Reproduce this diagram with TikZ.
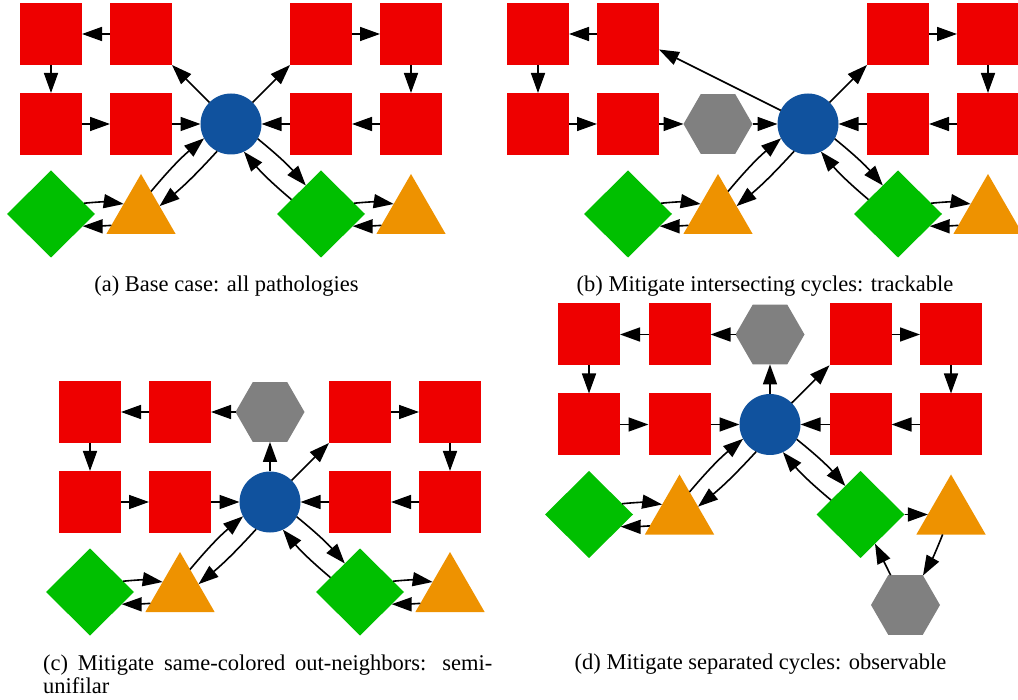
\documentclass[tikz,border=0pt]{standalone}
\usepackage{fontspec}
\setmainfont{Liberation Serif}
\usetikzlibrary{shapes.geometric,arrows.meta}
\definecolor{cred}{HTML}{EE0000}
\definecolor{cgreen}{HTML}{00BF00}
\definecolor{corange}{HTML}{EE9200}
\definecolor{cblue}{HTML}{10529E}
\definecolor{cgray}{HTML}{808080}
\tikzset{
  sq/.style={rectangle,fill=cred,minimum width=62pt,minimum height=62pt,inner sep=0pt,outer sep=0pt},
  circ/.style={circle,fill=cblue,minimum size=61pt,inner sep=0pt,outer sep=0pt},
  dia/.style={diamond,fill=cgreen,minimum width=88pt,minimum height=87pt,inner sep=0pt,outer sep=0pt},
  tri/.style={regular polygon,regular polygon sides=3,fill=corange,minimum size=80pt,inner sep=0pt,outer sep=0pt},
  hexa/.style={regular polygon,regular polygon sides=6,fill=cgray,minimum size=69pt,inner sep=0pt,outer sep=0pt},
  arr/.style={draw=black,line width=1.6pt,-{Triangle[length=20pt 0,width=14pt 0]}},
  captxt/.style={font=\fontsize{22.5}{25}\selectfont,inner sep=0pt}
}
\begin{document}
\begin{tikzpicture}[x=1pt,y=-1pt]
\useasboundingbox (0,0) rectangle (1018,700);
\clip (0,0) rectangle (1018,700);
% ---------------- (a)
\node[sq] (a11) at (51,34) {};
\node[sq] (a12) at (141,34) {};
\node[sq] (a14) at (321,34) {};
\node[sq] (a15) at (411,34) {};
\node[sq] (a21) at (51,124) {};
\node[sq] (a22) at (141,124) {};
\node[circ] (ac) at (231,124) {};
\node[sq] (a24) at (321,124) {};
\node[sq] (a25) at (411,124) {};
\node[dia] (adl) at (51,214) {};
\node[tri] (atl) at (141,214) {};
\node[dia] (adr) at (321,214) {};
\node[tri] (atr) at (411,214) {};
\draw[arr] (a12) -- (a11);
\draw[arr] (a11) -- (a21);
\draw[arr] (a21) -- (a22);
\draw[arr] (a22) -- (ac);
\draw[arr] (ac) -- (a12);
\draw[arr] (ac) -- (a14);
\draw[arr] (a14) -- (a15);
\draw[arr] (a15) -- (a25);
\draw[arr] (a25) -- (a24);
\draw[arr] (a24) -- (ac);
\draw[arr] (atl.66) to[bend left=5] (ac.208);
\draw[arr] (ac.243) to[bend left=4] (atl.23);
\draw[arr] (adl.18) to[bend left=7] (atl.150);
\draw[arr] (atl.201) to[bend left=2] (adl.339);
\draw[arr] (ac.331) to[bend left=5] (adr.118);
\draw[arr] (adr.154) to[bend left=5] (ac.295);
\draw[arr] (adr.18) to[bend left=7] (atr.150);
\draw[arr] (atr.201) to[bend left=2] (adr.339);
\node[captxt,anchor=base] (capa) at (226.5,292) {(a) Base case: all pathologies};
% ---------------- (b)
\node[sq] (b11) at (538,34) {};
\node[sq] (b12) at (628,34) {};
\node[sq] (b14) at (898,34) {};
\node[sq] (b15) at (988,34) {};
\node[sq] (b21) at (538,124) {};
\node[sq] (b22) at (628,124) {};
\node[hexa] (bh) at (718,124) {};
\node[circ] (bc) at (808,124) {};
\node[sq] (b24) at (898,124) {};
\node[sq] (b25) at (988,124) {};
\node[dia] (bdl) at (628,214) {};
\node[tri] (btl) at (718,214) {};
\node[dia] (bdr) at (898,214) {};
\node[tri] (btr) at (988,214) {};
\draw[arr] (b12) -- (b11);
\draw[arr] (b11) -- (b21);
\draw[arr] (b21) -- (b22);
\draw[arr] (b22) -- (bh);
\draw[arr] (bh) -- (bc);
\draw[arr] (bc) -- (b12);
\draw[arr] (bc) -- (b14);
\draw[arr] (b14) -- (b15);
\draw[arr] (b15) -- (b25);
\draw[arr] (b25) -- (b24);
\draw[arr] (b24) -- (bc);
\draw[arr] (btl.66) to[bend left=5] (bc.208);
\draw[arr] (bc.243) to[bend left=4] (btl.23);
\draw[arr] (bdl.18) to[bend left=7] (btl.150);
\draw[arr] (btl.201) to[bend left=2] (bdl.339);
\draw[arr] (bc.331) to[bend left=5] (bdr.118);
\draw[arr] (bdr.154) to[bend left=5] (bc.295);
\draw[arr] (bdr.18) to[bend left=7] (btr.150);
\draw[arr] (btr.201) to[bend left=2] (bdr.339);
\node[captxt,anchor=base] (capb) at (765,292) {(b) Mitigate intersecting cycles: trackable};
% ---------------- (c)
\node[sq] (c11) at (90,412) {};
\node[sq] (c12) at (180,412) {};
\node[hexa] (ch) at (270,412) {};
\node[sq] (c14) at (360,412) {};
\node[sq] (c15) at (450,412) {};
\node[sq] (c21) at (90,502) {};
\node[sq] (c22) at (180,502) {};
\node[circ] (cc) at (270,502) {};
\node[sq] (c24) at (360,502) {};
\node[sq] (c25) at (450,502) {};
\node[dia] (cdl) at (90,592) {};
\node[tri] (ctl) at (180,592) {};
\node[dia] (cdr) at (360,592) {};
\node[tri] (ctr) at (450,592) {};
\draw[arr] (ch) -- (c12);
\draw[arr] (c12) -- (c11);
\draw[arr] (c11) -- (c21);
\draw[arr] (c21) -- (c22);
\draw[arr] (c22) -- (cc);
\draw[arr] (cc) -- (ch);
\draw[arr] (cc) -- (c14);
\draw[arr] (c14) -- (c15);
\draw[arr] (c15) -- (c25);
\draw[arr] (c25) -- (c24);
\draw[arr] (c24) -- (cc);
\draw[arr] (ctl.66) to[bend left=5] (cc.208);
\draw[arr] (cc.243) to[bend left=4] (ctl.23);
\draw[arr] (cdl.18) to[bend left=7] (ctl.150);
\draw[arr] (ctl.201) to[bend left=2] (cdl.339);
\draw[arr] (cc.331) to[bend left=5] (cdr.118);
\draw[arr] (cdr.154) to[bend left=5] (cc.295);
\draw[arr] (cdr.18) to[bend left=7] (ctr.150);
\draw[arr] (ctr.201) to[bend left=2] (cdr.339);
\node[captxt,anchor=base west] (capc1) at (43,670) {\makebox[449pt][s]{(c) Mitigate same-colored out-neighbors: semi-}};
\node[captxt,anchor=base west] (capc2) at (43,693) {unifilar};
% ---------------- (d)
\node[sq] (d11) at (589,334.5) {};
\node[sq] (d12) at (679.5,334.5) {};
\node[hexa] (dh) at (770,334.5) {};
\node[sq] (d14) at (860.5,334.5) {};
\node[sq] (d15) at (951,334.5) {};
\node[sq] (d21) at (589,424.5) {};
\node[sq] (d22) at (679.5,424.5) {};
\node[circ] (dc) at (770,424.5) {};
\node[sq] (d24) at (860.5,424.5) {};
\node[sq] (d25) at (951,424.5) {};
\node[dia] (ddl) at (589,514.5) {};
\node[tri] (dtl) at (679.5,514.5) {};
\node[dia] (ddr) at (860.5,514.5) {};
\node[tri] (dtr) at (951,514.5) {};
\node[hexa] (dhb) at (905.5,605) {};
\draw[arr] (dh) -- (d12);
\draw[arr] (d12) -- (d11);
\draw[arr] (d11) -- (d21);
\draw[arr] (d21) -- (d22);
\draw[arr] (d22) -- (dc);
\draw[arr] (dc) -- (dh);
\draw[arr] (dc) -- (d14);
\draw[arr] (d14) -- (d15);
\draw[arr] (d15) -- (d25);
\draw[arr] (d25) -- (d24);
\draw[arr] (d24) -- (dc);
\draw[arr] (dtl.66) to[bend left=5] (dc.208);
\draw[arr] (dc.243) to[bend left=4] (dtl.23);
\draw[arr] (ddl.18) to[bend left=7] (dtl.150);
\draw[arr] (dtl.201) to[bend left=2] (ddl.339);
\draw[arr] (dc.331) to[bend left=5] (ddr.118);
\draw[arr] (ddr.154) to[bend left=5] (dc.295);
\draw[arr] (ddr) -- (dtr);
\draw[arr] (dtr) to[bend left=4] (dhb);
\draw[arr] (dhb) -- (ddr);
\node[captxt,anchor=base] (capd) at (760.5,669) {(d) Mitigate separated cycles: observable};
\end{tikzpicture}
\end{document}
